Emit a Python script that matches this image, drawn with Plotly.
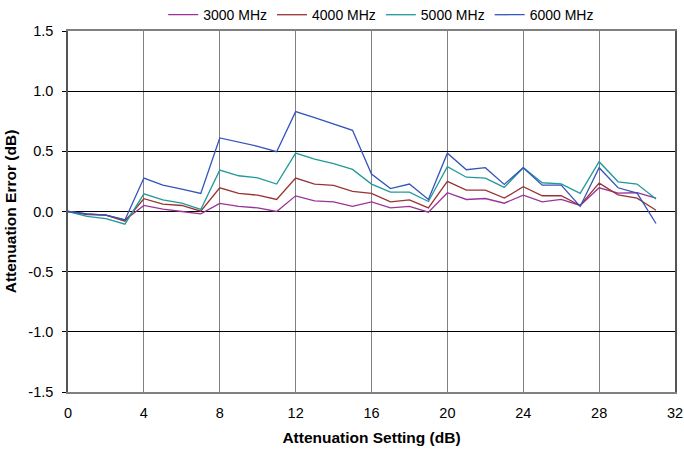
import plotly.graph_objects as go

settings = list(range(32))
series_names = ["3000 MHz", "4000 MHz", "5000 MHz", "6000 MHz"]
err_3000 = [0, -0.02, -0.03, -0.07, 0.05, 0.02, 0.0, -0.02, 0.067, 0.042, 0.03, 0.0,
            0.13, 0.089, 0.08, 0.042, 0.08, 0.03, 0.042, -0.006, 0.156, 0.1, 0.108, 0.069,
            0.136, 0.08, 0.1, 0.05, 0.197, 0.153, 0.156, 0.111]
err_4000 = [0, -0.025, -0.03, -0.08, 0.106, 0.061, 0.05, 0.003, 0.197, 0.15, 0.136, 0.1,
            0.278, 0.228, 0.217, 0.167, 0.15, 0.08, 0.097, 0.03, 0.25, 0.178, 0.178, 0.111,
            0.206, 0.131, 0.131, 0.05, 0.236, 0.139, 0.111, 0.011]
err_5000 = [0, -0.04, -0.06, -0.105, 0.147, 0.097, 0.069, 0.017, 0.344, 0.297, 0.28, 0.228,
            0.485, 0.436, 0.397, 0.35, 0.228, 0.161, 0.161, 0.083, 0.372, 0.285, 0.278, 0.2,
            0.364, 0.239, 0.23, 0.15, 0.414, 0.247, 0.228, 0.103]
err_6000 = [0, -0.02, -0.03, -0.07, 0.278, 0.22, 0.186, 0.15, 0.611, 0.575, 0.542, 0.497,
            0.83, 0.78, 0.725, 0.675, 0.311, 0.19, 0.228, 0.1, 0.485, 0.347, 0.364, 0.225,
            0.364, 0.219, 0.219, 0.042, 0.364, 0.197, 0.153, -0.1]
colors = ["#993399", "#993333", "#229999", "#3355bb"]
x_ticks = [0, 4, 8, 12, 16, 20, 24, 28, 32]
y_ticks = [-1.5, -1.0, -0.5, 0.0, 0.5, 1.0, 1.5]
y_labels = ["-1.5", "-1.0", "-0.5", "0.0", "0.5", "1.0", "1.5"]

FONT = "Liberation Sans, Arial, sans-serif"
fig = go.Figure()
for name, vals, c in zip(series_names, [err_3000, err_4000, err_5000, err_6000], colors):
    fig.add_trace(go.Scatter(x=settings, y=vals, mode="lines", name=name,
                             line=dict(color=c, width=1.3)))

fig.update_layout(
    width=684, height=455,
    margin=dict(l=68, r=9, t=31, b=63, autoexpand=False),
    paper_bgcolor="white", plot_bgcolor="white",
    font=dict(family=FONT, size=14.5, color="black"),
    showlegend=True,
    legend=dict(orientation="h", xref="paper", yref="paper",
                x=0.516, xanchor="center", y=1.044, yanchor="middle",
                font=dict(size=14), bgcolor="rgba(0,0,0,0)",
                itemwidth=30, tracegroupgap=0),
    xaxis=dict(range=[0, 32], tickvals=x_ticks, ticktext=[str(v) for v in x_ticks],
               showgrid=True, gridcolor="#808080", gridwidth=1,
               showline=True, linecolor="#808080", linewidth=1.5, mirror=True,
               ticks="", zeroline=False, automargin=False, ticklabeloverflow="allow",
               ticklabelstandoff=7,
               title=dict(text="<b>Attenuation Setting (dB)</b>", font=dict(size=15.5), standoff=12),
               tickfont=dict(size=14.5)),
    yaxis=dict(range=[-1.5, 1.5], tickvals=y_ticks, ticktext=y_labels,
               showgrid=True, gridcolor="black", gridwidth=1,
               showline=True, linecolor="#555555", linewidth=1.5, mirror=True,
               ticks="outside", ticklen=4, tickcolor="black", automargin=False,
               ticklabelstandoff=6,
               zeroline=True, zerolinecolor="black", zerolinewidth=1.2,
               title=dict(text="<b>Attenuation Error (dB)</b>", font=dict(size=15.5), standoff=8),
               tickfont=dict(size=14.5)),
    xaxis2=dict(range=[0, 32], tickvals=x_ticks, overlaying="x", anchor="free",
                position=0.5, side="bottom", showticklabels=False, ticks="outside",
                ticklen=4, tickcolor="black", showgrid=False, showline=False,
                zeroline=False, automargin=False),
)
fig.write_html("out.html", config={"displayModeBar": False},
               post_script="document.body.style.margin='0';document.body.style.overflow='hidden';")
